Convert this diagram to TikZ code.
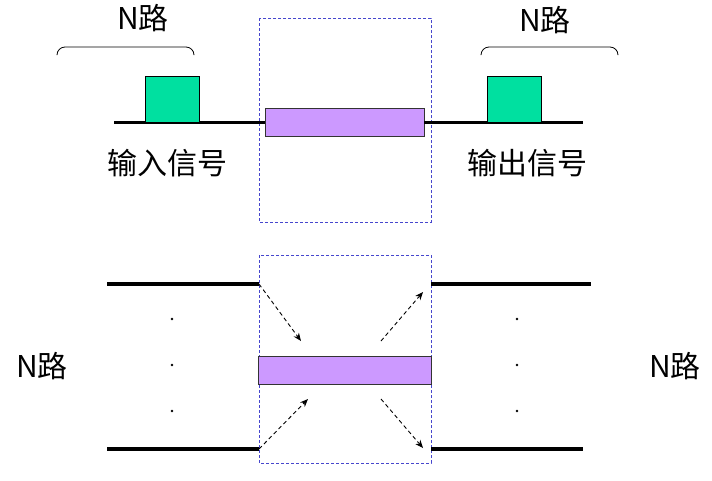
\documentclass[tikz,border=0pt]{standalone}
\usepackage{fontspec}
\setmainfont{Noto Sans CJK SC}
\usetikzlibrary{arrows.meta}
\definecolor{sigGreen}{RGB}{0,224,160}
\definecolor{barPurple}{RGB}{204,153,255}
\definecolor{frameBlue}{RGB}{70,70,205}
\begin{document}
\begin{tikzpicture}[x=1pt, y=-1pt, >={Stealth[length=8pt,width=6.5pt]},
    trunk/.style={line width=3.3pt},
    frame/.style={draw=frameBlue, line width=0.8pt, dash pattern=on 3pt off 2pt},
    pulse/.style={draw=black, fill=sigGreen, line width=0.9pt, minimum width=54pt, minimum height=46pt, inner sep=0pt, anchor=south west},
    bar/.style={draw=black!80, fill=barPurple, line width=0.9pt, minimum height=28pt, inner sep=0pt},
    flow/.style={->, line width=0.9pt, dash pattern=on 4pt off 3pt},
    brace/.style={line width=0.8pt, rounded corners=8pt},
    lbl/.style={font=\fontsize{30}{32}\selectfont, inner sep=0pt}]
    \useasboundingbox (0,0) rectangle (712,480);

    % --- 上半部分: 单路输入 / 输出 ---
    \draw[frame] (259,18) rectangle (431,222);
    \coordinate (inL) at (114,122.5);
    \coordinate (outR) at (583,122.5);
    \node[bar, minimum width=159pt] (bar1) at (344.5,122.5) {};
    \draw[trunk] (inL) -- (bar1.west);
    \draw[trunk] (bar1.east) -- (outR);

    % 脉冲信号
    \node[pulse] (pulseIn) at (145,123) {};
    \node[pulse] (pulseOut) at (487,123) {};

    % 括号与 N路
    \draw[brace] (57,54) -- (57,47) -- (194,47) -- (194,54);
    \draw[brace] (481,54) -- (481,47) -- (618,47) -- (618,54);
    \node[lbl] (nTopL) at (143,18) {N路};
    \node[lbl] (nTopR) at (545,20) {N路};
    \node[lbl] (txtIn) at (167,163) {输入信号};
    \node[lbl] (txtOut) at (527,163) {输出信号};

    % --- 下半部分: N路交叉 ---
    \draw[frame] (259,255) rectangle (431,463);
    \node[bar, minimum width=173pt] (bar2) at (344.5,370) {};

    \coordinate (a1) at (107,284);
    \coordinate (a2) at (259,284);
    \coordinate (b1) at (431,284);
    \coordinate (b2) at (591,284);
    \coordinate (c1) at (107,449);
    \coordinate (c2) at (259,449);
    \coordinate (d1) at (431,449);
    \coordinate (d2) at (583,449);
    \draw[trunk] (a1) -- (a2);
    \draw[trunk] (b1) -- (b2);
    \draw[trunk] (c1) -- (c2);
    \draw[trunk] (d1) -- (d2);

    % 省略点
    \foreach \y in {319,365,411} {
        \fill (172,\y) circle (1.4pt);
        \fill (517,\y) circle (1.4pt);
    }

    % 虚线箭头
    \coordinate (p1) at (301,341);
    \coordinate (p2) at (381,341);
    \coordinate (p3) at (423,292);
    \coordinate (q1) at (308,399);
    \coordinate (q2) at (381,399);
    \coordinate (q3) at (423,448);
    \draw[flow] (a2) -- (p1);
    \draw[flow] (p2) -- (p3);
    \draw[flow] (c2) -- (q1);
    \draw[flow] (q2) -- (q3);

    \node[lbl] (nBotL) at (42,366) {N路};
    \node[lbl] (nBotR) at (675,366) {N路};
\end{tikzpicture}
\end{document}
